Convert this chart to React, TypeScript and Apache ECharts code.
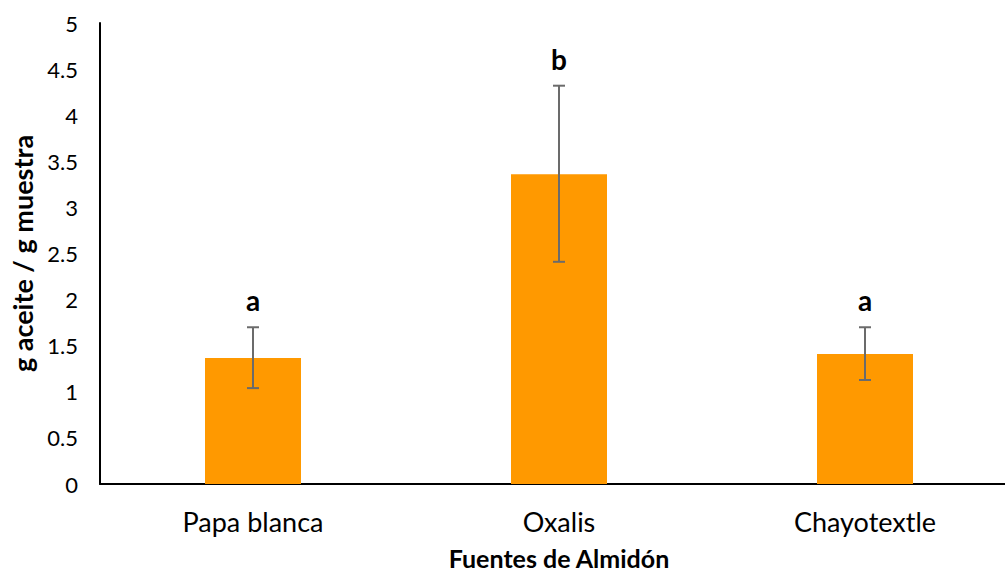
import React, { useEffect, useRef } from "react";
import * as echarts from "echarts";

const categories = ["Papa blanca", "Oxalis", "Chayotextle"];
const means = [1.367, 3.36, 1.41];
const errUpper = [1.70, 4.32, 1.70];
const errLower = [1.04, 2.41, 1.128];
const letters = ["a", "b", "a"];
const yTicks = ["0", "0.5", "1", "1.5", "2", "2.5", "3", "3.5", "4", "4.5", "5"];

const FONT = "Lato, 'Open Sans', sans-serif";

export default function App() {
  const ref = useRef<HTMLDivElement>(null);
  useEffect(() => {
    if (!ref.current) return;
    const chart = echarts.init(ref.current, null, { renderer: "svg" });
    chart.setOption({
      animation: false,
      backgroundColor: "#ffffff",
      grid: { left: 100, top: 23, width: 918, height: 461, containLabel: false, outerBoundsMode: "none" },
      xAxis: {
        type: "category",
        data: categories,
        axisLine: { lineStyle: { color: "#000", width: 2 } },
        axisTick: { show: false },
        axisLabel: { color: "#000", fontSize: 27, fontFamily: FONT, margin: 24 },
        name: "Fuentes de Almidón",
        nameLocation: "middle",
        nameGap: 64,
        nameTextStyle: { color: "#000", fontSize: 25, fontWeight: "bold", fontFamily: FONT, lineHeight: 20 },
      },
      yAxis: {
        type: "value",
        min: 0,
        max: 5,
        interval: 0.5,
        axisLine: { show: true, lineStyle: { color: "#000", width: 2 } },
        axisTick: { show: false },
        splitLine: { show: false },
        axisLabel: {
          color: "#000",
          fontSize: 22,
          fontFamily: FONT,
          margin: 22,
          formatter: (v: number) => yTicks[Math.round(v * 2)] ?? String(v),
        },
        name: "g aceite / g muestra",
        nameLocation: "middle",
        nameGap: 58,
        nameTextStyle: { color: "#000", fontSize: 27, fontWeight: "bold", fontFamily: FONT },
      },
      series: [
        {
          type: "bar",
          data: means,
          barWidth: 96,
          itemStyle: { color: "#FF9900" },
        },
        {
          type: "custom",
          data: categories.map((_, i) => [i, errLower[i], errUpper[i]]),
          z: 10,
          renderItem: (params: any, api: any) => {
            const idx = api.value(0);
            const lo = api.coord([idx, api.value(1)]);
            const hi = api.coord([idx, api.value(2)]);
            const x = lo[0];
            const cap = 6;
            const style = { stroke: "#6b6b6b", lineWidth: 2 };
            return {
              type: "group",
              children: [
                { type: "line", shape: { x1: x, y1: hi[1], x2: x, y2: lo[1] }, style },
                { type: "line", shape: { x1: x - cap, y1: hi[1], x2: x + cap, y2: hi[1] }, style },
                { type: "line", shape: { x1: x - cap, y1: lo[1], x2: x + cap, y2: lo[1] }, style },
                {
                  type: "text",
                  x: x,
                  y: hi[1] - 27,
                  style: {
                    text: letters[params.dataIndex],
                    fill: "#000",
                    font: `bold 28px ${FONT}`,
                    align: "center",
                    verticalAlign: "middle",
                  },
                },
              ],
            };
          },
        },
      ],
    });
    return () => chart.dispose();
  }, []);
  return (
    <div style={{ position: "absolute", left: 0, top: 0, width: 1005, height: 574, overflow: "hidden" }}>
      <div ref={ref} style={{ width: 1005, height: 574 }} />
    </div>
  );
}
